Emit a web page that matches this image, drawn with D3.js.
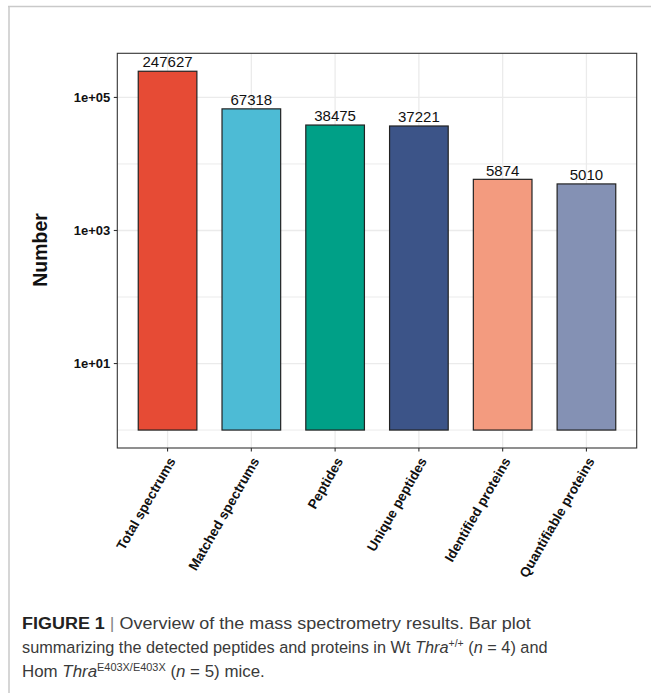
<!DOCTYPE html>
<html>
<head>
<meta charset="utf-8">
<script src="https://cdn.jsdelivr.net/npm/d3@7"></script>
<style>
  html, body { margin: 0; padding: 0; background: #fff; }
  svg { display: block; }
</style>
</head>
<body>
<svg id="fig" width="651" height="693"></svg>
<script>
// Mass spectrometry summary counts
const categories = ["Total spectrums", "Matched spectrums", "Peptides",
                    "Unique peptides", "Identified proteins", "Quantifiable proteins"];
const counts = [247627, 67318, 38475, 37221, 5874, 5010];
const barColors = ["#E64B35", "#4DBBD5", "#00A087", "#3C5488", "#F39B7F", "#8491B4"];
const majorTicks = [1e1, 1e3, 1e5];
const minorTicks = [1e0, 1e2, 1e4];
const tickLabels = ["1e+01", "1e+03", "1e+05"];
const yTitle = "Number";

const svg = d3.select("#fig");

// outer figure frame (top and left rules)
svg.append("line").attr("x1", 8).attr("x2", 651).attr("y1", 6.5).attr("y2", 6.5)
  .attr("stroke", "#c9c9c9").attr("stroke-width", 1.5);
svg.append("line").attr("x1", 9).attr("x2", 9).attr("y1", 6).attr("y2", 693)
  .attr("stroke", "#c9c9c9").attr("stroke-width", 1.5);

// plot panel
const panel = { left: 117.3, right: 636.7, top: 53.3, bottom: 448 };

// log axis, bars rise from 1 with 5% expansion on both ends
const logMax = Math.log10(d3.max(counts));
const pad = 0.05 * logMax;
const y = d3.scaleLog()
  .domain([Math.pow(10, -pad), Math.pow(10, logMax + pad)])
  .range([panel.bottom, panel.top]);

const x = d3.scaleBand()
  .domain(categories)
  .range([panel.left, panel.right])
  .paddingInner(0.3)
  .paddingOuter(0.25);

const g = svg.append("g");

// panel background
g.append("rect")
  .attr("x", panel.left).attr("y", panel.top)
  .attr("width", panel.right - panel.left).attr("height", panel.bottom - panel.top)
  .attr("fill", "#fff");

// grid lines
const gridColor = "#ebebeb";
g.selectAll(".minor-y").data(minorTicks).join("line")
  .attr("x1", panel.left).attr("x2", panel.right)
  .attr("y1", d => y(d)).attr("y2", d => y(d))
  .attr("stroke", gridColor).attr("stroke-width", 1);
g.selectAll(".major-y").data(majorTicks).join("line")
  .attr("x1", panel.left).attr("x2", panel.right)
  .attr("y1", d => y(d)).attr("y2", d => y(d))
  .attr("stroke", gridColor).attr("stroke-width", 1.3);
g.selectAll(".major-x").data(categories).join("line")
  .attr("x1", d => x(d) + x.bandwidth() / 2).attr("x2", d => x(d) + x.bandwidth() / 2)
  .attr("y1", panel.top).attr("y2", panel.bottom)
  .attr("stroke", gridColor).attr("stroke-width", 1.3);

// bars
g.selectAll(".bar").data(categories).join("rect")
  .attr("x", d => x(d))
  .attr("width", x.bandwidth())
  .attr("y", (d, i) => y(counts[i]))
  .attr("height", (d, i) => y(1) - y(counts[i]))
  .attr("fill", (d, i) => barColors[i])
  .attr("stroke", "#222")
  .attr("stroke-width", 1.2);

// value labels above bars
g.selectAll(".val").data(categories).join("text")
  .attr("x", d => x(d) + x.bandwidth() / 2)
  .attr("y", (d, i) => y(counts[i]) - 3.8)
  .attr("text-anchor", "middle")
  .attr("font-family", "Liberation Sans, Arial, sans-serif")
  .attr("font-size", 15)
  .attr("fill", "#111")
  .text((d, i) => counts[i]);

// panel border
g.append("rect")
  .attr("x", panel.left).attr("y", panel.top)
  .attr("width", panel.right - panel.left).attr("height", panel.bottom - panel.top)
  .attr("fill", "none").attr("stroke", "#333").attr("stroke-width", 1.1);

// y axis ticks and labels
g.selectAll(".ytick").data(majorTicks).join("line")
  .attr("x1", panel.left - 3.5).attr("x2", panel.left)
  .attr("y1", d => y(d)).attr("y2", d => y(d))
  .attr("stroke", "#333").attr("stroke-width", 1.1);
g.selectAll(".ylab").data(majorTicks).join("text")
  .attr("x", panel.left - 7)
  .attr("y", d => y(d))
  .attr("dy", "0.36em")
  .attr("text-anchor", "end")
  .attr("font-family", "Liberation Sans, Arial, sans-serif")
  .attr("font-weight", "bold")
  .attr("font-size", 13)
  .attr("fill", "#111")
  .text((d, i) => tickLabels[i]);

// x axis ticks and rotated labels
g.selectAll(".xtick").data(categories).join("line")
  .attr("x1", d => x(d) + x.bandwidth() / 2).attr("x2", d => x(d) + x.bandwidth() / 2)
  .attr("y1", panel.bottom).attr("y2", panel.bottom + 3.5)
  .attr("stroke", "#333").attr("stroke-width", 1.1);
g.selectAll(".xlab").data(categories).join("text")
  .attr("transform", d => `translate(${x(d) + x.bandwidth() / 2},${panel.bottom + 8}) rotate(-60)`)
  .attr("text-anchor", "end")
  .attr("dy", "0.72em")
  .attr("font-family", "Liberation Sans, Arial, sans-serif")
  .attr("font-weight", "bold")
  .attr("font-size", 13.6)
  .attr("fill", "#111")
  .text(d => d);

// y axis title
g.append("text")
  .attr("transform", `translate(46.5,250) rotate(-90)`)
  .attr("text-anchor", "middle")
  .attr("font-family", "Liberation Sans, Arial, sans-serif")
  .attr("font-weight", "bold")
  .attr("font-size", 19.5)
  .attr("fill", "#111")
  .text(yTitle);

// figure caption, each line condensed to its column width
const cap = svg.append("g")
  .attr("font-family", "Liberation Sans, Arial, sans-serif")
  .attr("font-size", 17)
  .attr("fill", "#3a3a3a");

function captionLine(yPos, width, build) {
  const holder = cap.append("g");
  const t = holder.append("text").attr("x", 0).attr("y", 0);
  build(t);
  const natural = t.node().getComputedTextLength();
  holder.attr("transform", `translate(22,${yPos}) scale(${width / natural},1)`);
}

captionLine(629, 509, t => {
  t.append("tspan").attr("font-weight", "bold").attr("fill", "#222").text("FIGURE 1");
  t.append("tspan").attr("fill", "#888").text(" | ");
  t.append("tspan").text("Overview of the mass spectrometry results. Bar plot");
});

captionLine(653, 526, t => {
  t.append("tspan").text("summarizing the detected peptides and proteins in Wt ");
  t.append("tspan").attr("font-style", "italic").text("Thra");
  t.append("tspan").attr("font-size", 11).attr("dy", -6).text("+/+");
  t.append("tspan").attr("dy", 6).text(" (");
  t.append("tspan").attr("font-style", "italic").text("n");
  t.append("tspan").text(" = 4) and");
});

captionLine(677, 243, t => {
  t.append("tspan").text("Hom ");
  t.append("tspan").attr("font-style", "italic").text("Thra");
  t.append("tspan").attr("font-size", 11).attr("dy", -6).text("E403X/E403X");
  t.append("tspan").attr("dy", 6).text(" (");
  t.append("tspan").attr("font-style", "italic").text("n");
  t.append("tspan").text(" = 5) mice.");
});
</script>
</body>
</html>
